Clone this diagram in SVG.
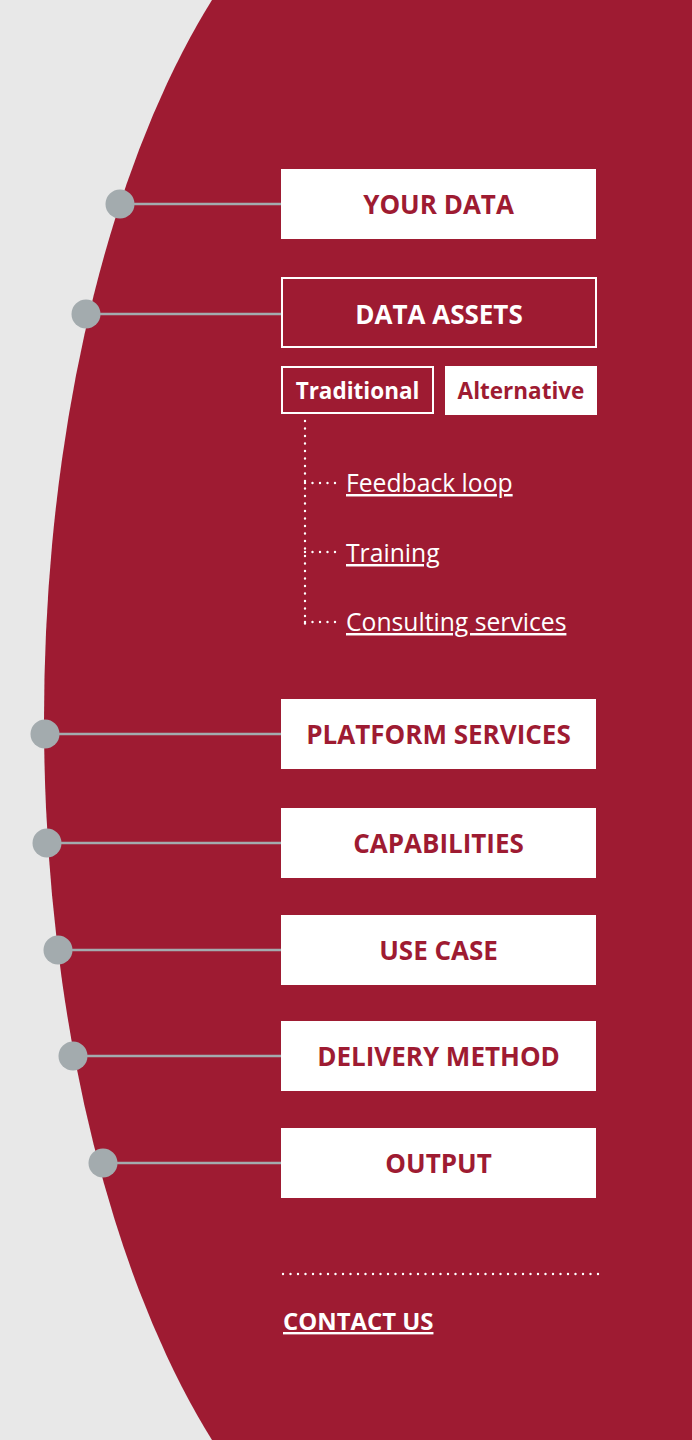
<svg xmlns="http://www.w3.org/2000/svg" width="692" height="1440" viewBox="0 0 692 1440">
<style>
.box{fill:#ffffff}
.obox{fill:none;stroke:#ffffff;stroke-width:2}
.lbl{font-family:"Open Sans","Liberation Sans",sans-serif;font-weight:700;font-size:26px;fill:#9e1b32;text-anchor:middle}
.wlbl{font-family:"Open Sans","Liberation Sans",sans-serif;font-weight:700;font-size:26px;fill:#ffffff;text-anchor:middle}
.sub{font-family:"Open Sans","Liberation Sans",sans-serif;font-weight:700;font-size:22.5px;text-anchor:middle}
.link{font-family:"Open Sans","Liberation Sans",sans-serif;font-size:24.7px;fill:#ffffff;text-decoration:underline}
.conn{stroke:#a3abae;stroke-width:2.5}
.dot{fill:#a3abae}
.dotted{stroke:#ffffff;stroke-width:2.4;stroke-linecap:round;stroke-dasharray:0 7.5;fill:none}
</style>
<rect x="0" y="0" width="692" height="1440" fill="#e8e8e8"/>
<ellipse cx="464" cy="720" rx="420" ry="900" fill="#9e1b32"/>
<g id="connectors">
<line class="conn" x1="120" y1="204" x2="281" y2="204"/>
<line class="conn" x1="86" y1="314" x2="281" y2="314"/>
<line class="conn" x1="45" y1="734" x2="281" y2="734"/>
<line class="conn" x1="47" y1="843" x2="281" y2="843"/>
<line class="conn" x1="58" y1="950" x2="281" y2="950"/>
<line class="conn" x1="73" y1="1056" x2="281" y2="1056"/>
<line class="conn" x1="103" y1="1163" x2="281" y2="1163"/>
<path class="dotted" d="M305 421 V625"/>
<path class="dotted" d="M305 483 H340"/>
<path class="dotted" d="M305 552 H340"/>
<path class="dotted" d="M305 622 H340"/>
<path class="dotted" d="M283 1274 H599"/>
<circle class="dot" cx="120" cy="204" r="14.5"/>
<circle class="dot" cx="86" cy="314" r="14.5"/>
<circle class="dot" cx="45" cy="734" r="14.5"/>
<circle class="dot" cx="47" cy="843" r="14.5"/>
<circle class="dot" cx="58" cy="950" r="14.5"/>
<circle class="dot" cx="73" cy="1056" r="14.5"/>
<circle class="dot" cx="103" cy="1163" r="14.5"/>
</g>
<g id="your-data"><rect class="box" x="281" y="169" width="315" height="70"/><text class="lbl" x="438.5" y="213.5">YOUR DATA</text></g>
<g id="data-assets"><rect class="obox" x="282" y="278" width="314" height="69"/><text class="wlbl" x="439" y="323.5">DATA ASSETS</text></g>
<g id="traditional"><rect class="obox" x="282" y="367" width="151" height="46"/><text class="sub" x="357.5" y="398.5" fill="#ffffff">Traditional</text></g>
<g id="alternative"><rect class="box" x="445" y="366" width="152" height="49"/><text class="sub" x="521" y="398.5" fill="#9e1b32">Alternative</text></g>
<g id="feedback"><text class="link" x="346" y="492">Feedback loop</text></g>
<g id="training"><text class="link" x="346" y="562">Training</text></g>
<g id="consulting"><text class="link" x="346" y="631">Consulting services</text></g>
<g id="platform"><rect class="box" x="281" y="699" width="315" height="70"/><text class="lbl" x="438.5" y="743.5">PLATFORM SERVICES</text></g>
<g id="capabilities"><rect class="box" x="281" y="808" width="315" height="70"/><text class="lbl" x="438.5" y="852.5">CAPABILITIES</text></g>
<g id="use-case"><rect class="box" x="281" y="915" width="315" height="70"/><text class="lbl" x="438.5" y="959.5">USE CASE</text></g>
<g id="delivery"><rect class="box" x="281" y="1021" width="315" height="70"/><text class="lbl" x="438.5" y="1065.5">DELIVERY METHOD</text></g>
<g id="output"><rect class="box" x="281" y="1128" width="315" height="70"/><text class="lbl" x="438.5" y="1172.5">OUTPUT</text></g>
<g id="contact"><text class="link" x="283" y="1330" style="font-size:23.9px;font-weight:700">CONTACT US</text></g>
</svg>
